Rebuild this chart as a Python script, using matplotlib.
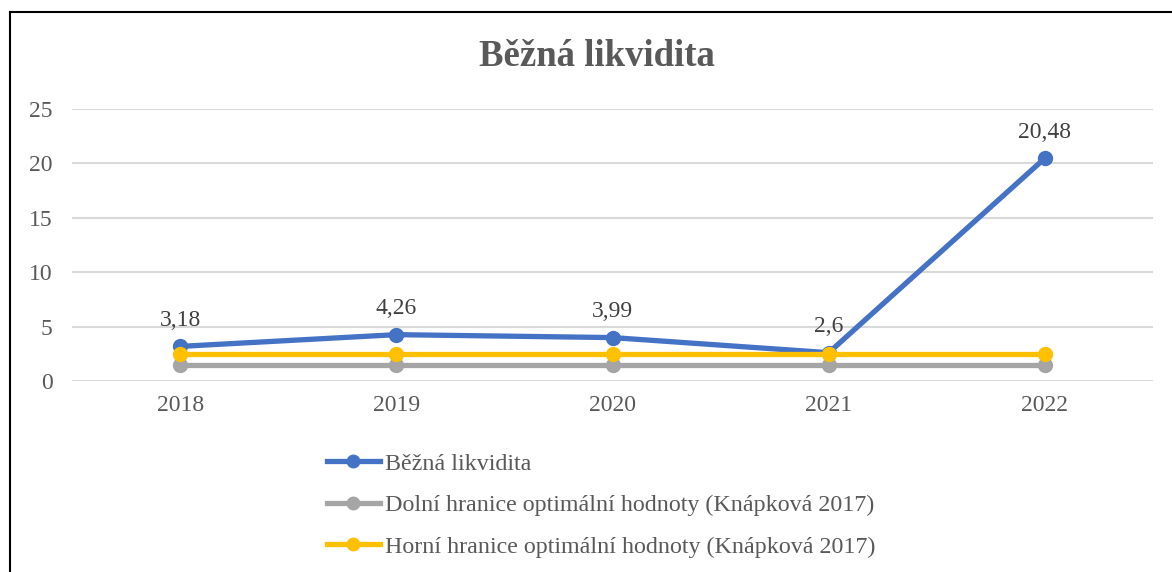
import matplotlib.pyplot as plt
from matplotlib.lines import Line2D

years = ["2018", "2019", "2020", "2021", "2022"]
bezna = [3.18, 4.26, 3.99, 2.6, 20.48]
dolni = [1.5, 1.5, 1.5, 1.5, 1.5]
horni = [2.5, 2.5, 2.5, 2.5, 2.5]
labels = ["3,18", "4,26", "3,99", "2,6", "20,48"]
series_names = ["Běžná likvidita",
                "Dolní hranice optimální hodnoty (Knápková 2017)",
                "Horní hranice optimální hodnoty (Knápková 2017)"]

plt.rcParams['font.family'] = ['Liberation Serif', 'DejaVu Serif']
txt = "#595959"

fig = plt.figure(figsize=(11.72, 5.72), dpi=100)
ax = fig.add_axes([72/1172, 1 - 381/572, 1081/1172, 272/572])

x = list(range(len(years)))
ax.plot(x, dolni, color="#A5A5A5", lw=3.8, marker="o", ms=10, zorder=3)
ax.plot(x, horni, color="#FFC000", lw=3.8, marker="o", ms=10, zorder=4)
ax.plot(x, bezna, color="#4472C4", lw=3.8, marker="o", ms=10, zorder=2)

for xi, v, lab in zip(x, bezna, labels):
    ax.annotate(lab, (xi, v), xytext=(0, 11), textcoords="offset points",
                ha="center", va="bottom", fontsize=17, color="#404040")

ax.set_xlim(-0.5, 4.5)
ax.set_ylim(0, 25)
ax.set_yticks([0, 5, 10, 15, 20, 25])
ax.set_xticks(x)
ax.set_xticklabels(years)
ax.grid(axis="y", color="#D9D9D9", lw=1.5)
ax.set_axisbelow(True)
for s in ax.spines.values():
    s.set_visible(False)
ax.tick_params(length=0, labelsize=17, colors=txt)
ax.tick_params(axis="y", pad=14)
ax.tick_params(axis="x", pad=10)

fig.text(597/1172, 1 - 57/572, "Běžná likvidita", ha="center", va="center",
         fontsize=26.5, fontweight="bold", color=txt)

handles = [Line2D([], [], color=c, lw=3.8, marker="o", ms=9)
           for c in ["#4472C4", "#A5A5A5", "#FFC000"]]
leg = fig.legend(handles, series_names, loc="upper left",
                 bbox_to_anchor=(315/1172, 1 - 441/572), frameon=False,
                 fontsize=17.3, labelcolor=txt, handlelength=2.2,
                 handletextpad=0.2, labelspacing=0.82, borderpad=0)

# chart border (top and left visible)
fig.add_artist(Line2D([10/1172, 10/1172], [0, 1 - 12/572], color="black", lw=1.5))
fig.add_artist(Line2D([10/1172, 1], [1 - 12/572, 1 - 12/572], color="black", lw=1.5))

fig.savefig("out.png", dpi=100)
